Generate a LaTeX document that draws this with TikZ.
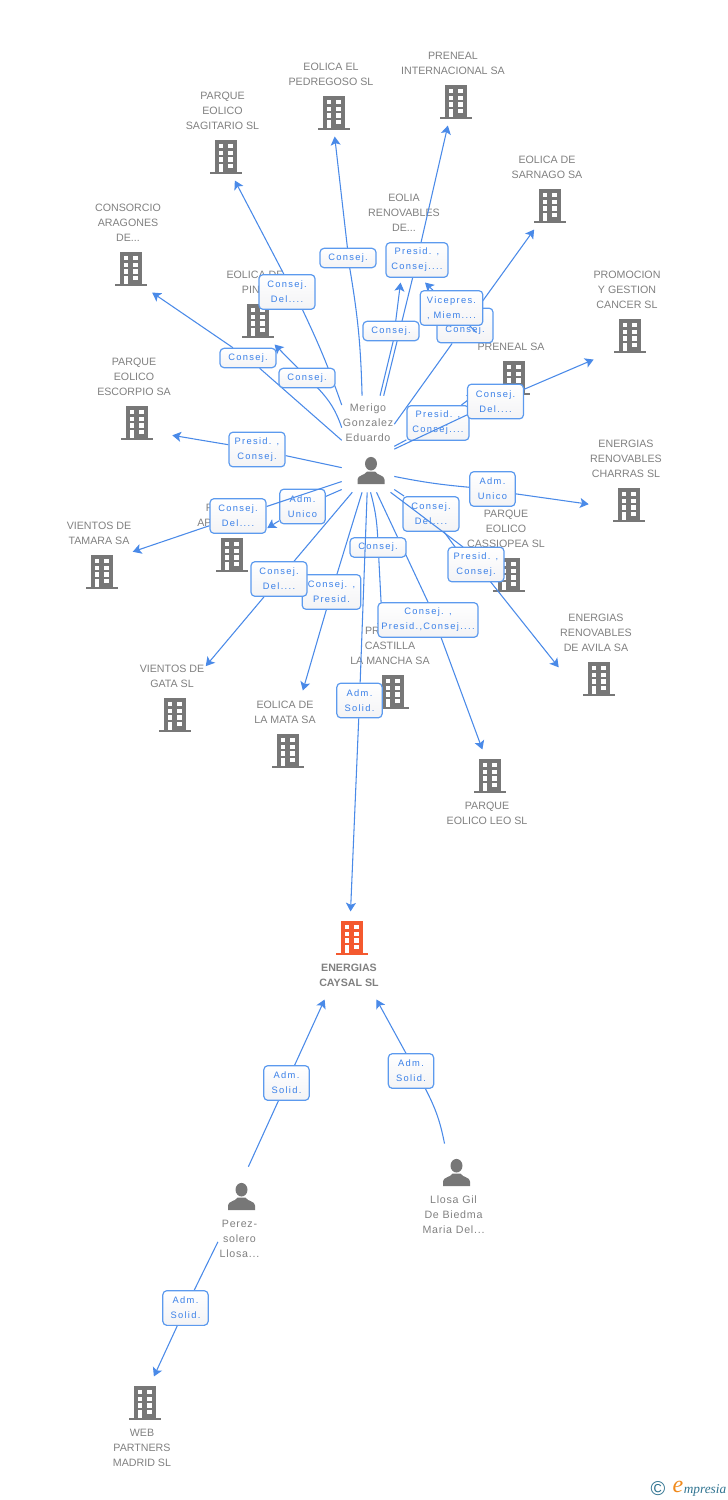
\documentclass[tikz,border=0pt]{standalone}
\usepackage{fontspec}
\setmainfont{Liberation Sans}
\newfontfamily\lblfont{Liberation Sans}[LetterSpace=14]
\newfontfamily\perfont{Liberation Sans}[LetterSpace=7]
\newfontfamily\logofont{Liberation Serif}
\usetikzlibrary{arrows.meta,positioning,fit,calc}

\definecolor{firmgray}{HTML}{777777}
\definecolor{firmorange}{HTML}{F4592F}
\definecolor{namegray}{HTML}{808080}
\definecolor{linkblue}{HTML}{4A8AE8}
\definecolor{lbltext}{HTML}{3A80E8}
\definecolor{lblborder}{HTML}{5C9AEE}
\definecolor{lblshade}{HTML}{F3F3F5}
\definecolor{logoteal}{HTML}{2F7390}
\definecolor{logoorange}{HTML}{F08A1D}

\pgfdeclarelayer{firms}
\pgfdeclarelayer{linkback}
\pgfdeclarelayer{lblback}
\pgfdeclarelayer{linkfront}
\pgfsetlayers{firms,linkback,lblback,linkfront,main}

\tikzset{
    firmicon/.style={inner sep=0pt, minimum width=24pt, minimum height=25.5pt},
    firmname/.style={inner xsep=0pt, inner ysep=2.8pt, text depth=0pt, align=center, text=namegray,
        font=\fontsize{8}{11.25}\selectfont},
    firmfit/.style={inner xsep=.75pt, inner ysep=4.5pt},
    firmfitlow/.style={inner xsep=.75pt, inner ysep=6.75pt},
    pername/.style={firmname, font=\fontsize{8}{11.25}\selectfont\perfont},
    perbox/.style={inner sep=0pt, minimum width=39pt},
    link/.style={draw=linkblue, line width=.8pt, -{Stealth[length=6.5pt,width=7.5pt,inset=1.5pt]}},
    lblbox/.style={draw=lblborder, line width=.9pt, rounded corners=3pt, top color=white, bottom color=lblshade,
        text=lbltext, align=center, inner sep=0pt, minimum width=42pt, minimum height=26pt,
        font=\fontsize{7}{11.25}\selectfont\lblfont},
    lblone/.style={lblbox, minimum height=14.5pt},
    pics/firm/.style={code={
        \fill[#1] (-11,-17) rectangle (11,15.5);
        \fill[#1] (-16,15) rectangle (16,17);
        \foreach \wy in {-13,-6.3,.3} {
            \fill[white] (-7,\wy) rectangle (-2.7,\wy+4.4);
            \fill[white] (2.3,\wy) rectangle (7,\wy+4.4);
        }
        \fill[white] (2.3,7) rectangle (7,11.3);
        \fill[white] (-7,7) rectangle (-2.7,15);
    }},
    pics/person/.style={code={
        \fill[firmgray] (0,-6.8) ellipse (6 and 6.8);
        \fill[firmgray] (-13.5,13.5) -- (-13.5,9) .. controls (-13.5,4.5) and (-6,5) .. (-4,1)
            -- (4,1) .. controls (6,5) and (13.5,4.5) .. (13.5,9) -- (13.5,13.5) -- cycle;
    }}
}

\newcommand{\firmUp}[4]{%
    \node[firmicon] (#1Icon) at (#2,#3) {};
    \pic at (#1Icon) {firm=firmgray};
    \node[firmname, above=4.875pt of #1Icon.north, xshift=-2.25pt] (#1Text) {#4};
    \node[firmfit, fit=(#1Icon)(#1Text)] (#1) {};
}
\newcommand{\firmDown}[5][firmgray]{%
    \node[firmicon] (#2Icon) at (#3,#4) {};
    \pic at (#2Icon) {firm=#1};
    \node[firmname, below=3.375pt of #2Icon.south, xshift=-2.25pt] (#2Text) {#5};
    \node[firmfitlow, fit=(#2Icon)(#2Text)] (#2) {};
}

\begin{document}
\begin{tikzpicture}[x=.75pt, y=-.75pt]
    \useasboundingbox (0,0) rectangle (728,1500);

    \begin{pgfonlayer}{firms}
    \firmUp{pedregoso}{334}{113}{EOLICA EL\\PEDREGOSO SL}
    \firmUp{sagitario}{225.5}{157}{PARQUE\\EOLICO\\SAGITARIO SL}
    \firmUp{consorcio}{131}{269}{CONSORCIO\\ARAGONES\\DE...}
    \firmUp{prenealint}{456}{102}{PRENEAL\\INTERNACIONAL SA}
    \firmUp{sarnago}{550}{206}{EOLICA DE\\SARNAGO SA}
    \firmUp{eolia}{407}{259}{EOLIA\\RENOVABLES\\DE...}
    \firmUp{promocion}{630}{336}{PROMOCION\\Y GESTION\\CANCER SL}
    \firmUp{preneal}{514}{378}{PRENEAL SA}
    \firmUp{pino}{258}{321}{EOLICA DE\\PINO}
    \firmUp{escorpio}{137}{423}{PARQUE\\EOLICO\\ESCORPIO SA}
    \firmUp{charras}{629}{505}{ENERGIAS\\RENOVABLES\\CHARRAS SL}
    \firmUp{cassiopea}{509}{575}{PARQUE\\EOLICO\\CASSIOPEA SL}
    \firmUp{avila}{599}{679}{ENERGIAS\\RENOVABLES\\DE AVILA SA}
    \firmUp{tamara}{102}{572}{VIENTOS DE\\TAMARA SA}
    \firmUp{gata}{175}{715}{VIENTOS DE\\GATA SL}
    \firmUp{mata}{288}{751}{EOLICA DE\\LA MATA SA}
    \firmUp{castilla}{393}{692}{CASTILLA\\LA MANCHA SA}
    \firmDown{leo}{490}{776}{PARQUE\\EOLICO LEO SL}
    \firmDown[firmorange]{caysal}{352}{938}{\textbf{ENERGIAS}\\\textbf{CAYSAL SL}}
    \firmDown{web}{145}{1403}{WEB\\PARTNERS\\MADRID SL}

    \node[firmname] (castillaCut) at (372.5,631) {PR};
    \node[firmicon] (apIcon) at (232,555) {};
    \pic at (apIcon) {firm=firmgray};
    \node[firmname, anchor=west] (apCutA) at (205.7,508) {P};
    \node[firmname, anchor=west] (apCutB) at (197,523) {AP};
    \coordinate (apEdge) at (266,523);
    \node[firmfit, fit=(apIcon)(apCutA)(apCutB)(apEdge)] (ap) {};

    \node[perbox, minimum height=72pt] (merigo) at (368,444) {};
    \pic at (371,470.5) {person};
    \node[pername] (merigoText) at (368,423) {Merigo\\Gonzalez\\Eduardo};
    \node[perbox, minimum width=32pt, minimum height=75pt] (perez) at (239.5,1217) {};
    \pic at (241.5,1196.5) {person};
    \node[pername] (perezText) at (239.5,1239) {Perez-\\solero\\Llosa...};
    \node[perbox, minimum width=48pt, minimum height=76pt] (llosa) at (453.5,1194.5) {};
    \pic at (456.5,1172.5) {person};
    \node[pername] (llosaText) at (453.5,1215) {Llosa Gil\\De Biedma\\Maria Del...};
    \end{pgfonlayer}

    \begin{pgfonlayer}{lblback}
    \node[lblone] (lblPedregoso) at (348,258) {Consej.};
    \node[lblbox] (lblSagitario) at (287,292) {Consej.\\Del....};
    \node[lblone] (lblConsorcio) at (248,358) {Consej.};
    \node[lblone] (lblPino) at (307,378) {Consej.};
    \node[lblone] (lblEolia) at (391,331) {Consej.};
    \node[lblbox, minimum width=46.5pt] (lblPrenealint) at (417,260) {Presid. ,\\Consej....};
    \node[lblbox] (lblSarnago) at (465,325.5) {\mbox{}\\Consej.};
    \node[lblbox, minimum width=46.5pt] (lblPreneal) at (438,423) {Presid. ,\\Consej....};
    \node[lblbox] (lblEscorpio) at (257,449.5) {Presid. ,\\Consej.};
    \node[lblbox, minimum width=34pt] (lblCharras) at (492.5,489) {Adm.~\\Unico};
    \node[lblbox, minimum width=34pt] (lblAp) at (302.5,506.5) {Adm.~\\Unico};
    \node[lblbox] (lblCassiopea) at (431,514) {Consej.\\Del....};
    \node[lblone] (lblCastilla) at (378,547.5) {Consej.};
    \node[lblbox, minimum width=44pt] (lblMata) at (331.5,592) {Consej. ,\\Presid.};
    \node[lblbox] (lblGata) at (279,579) {Consej.\\Del....};
    \node[lblbox, minimum width=75pt] (lblLeo) at (428,620) {Consej. ,\\Presid.,Consej....};
    \node[lblbox, minimum width=34pt] (lblPerez) at (286.5,1083) {Adm.~\\Solid.};
    \node[lblbox, minimum width=34pt] (lblLlosa) at (411,1071) {Adm.~\\Solid.};
    \node[lblbox, minimum width=34pt] (lblWeb) at (185.5,1308) {Adm.~\\Solid.};
    \end{pgfonlayer}

    \node[lblbox] (lblPromocion) at (495.5,401.5) {Consej.\\Del....};
    \node[lblbox] (lblTamara) at (238,516) {Consej.\\Del....};
    \node[lblbox] (lblAvila) at (476,564.5) {Presid. ,\\Consej.};
    \node[lblbox, minimum width=34pt] (lblCaysal) at (359.5,700.5) {Adm.~\\Solid.};
    \node[lblbox, minimum width=47pt] (lblVicepres) at (451.5,308) {Vicepres.\\, Miem....};

    \begin{pgfonlayer}{linkback}
    \draw[link] (merigo.97.7) to[bend right=4] (lblPedregoso) -- (pedregoso.-85.7);
    \draw[link] (merigo.124) to[bend right=3] (lblSagitario.-49) -- (sagitario.-76.2);
    \draw[link] (merigo.148.7) to[bend right=12] (lblPino) -- (pino.-65.7);
    \draw[link] (merigo.172.8) -- (lblConsorcio) -- (consorcio.-64);
    \draw[link] (merigo.76.6) -- (lblEolia.-78) -- (eolia.-94.7);
    \draw[link] (merigo.72.7) -- (lblPrenealint) -- (prenealint.-97);
    \draw[link] (merigo.37.2) -- (lblSarnago) -- (sarnago.-107.6);
    \draw[link] (merigo.-5.9) -- (lblPreneal) -- (preneal);
    \draw[link] (merigo.-51.5) to[bend right=3] (lblCharras) -- (charras.-146.3);
    \draw[link] (merigo.-138) -- (lblEscorpio) -- (escorpio.-45);
    \draw[link] (merigo.-120.7) -- (lblAp) -- (ap.13.4);
    \draw[link] (merigo.-108.8) -- (lblGata) -- (gata.42.3);
    \draw[link] (merigo.-97.5) -- (lblMata) -- (mata.67.5);
    \draw[link] (merigo.-87.6) to[bend left=6] (lblCastilla) -- (castilla.100);
    \draw[link] (merigo.-80.9) -- (lblLeo.north) -- (leo.96.6);
    \draw[link] (merigo.-60.9) -- (lblCassiopea) -- (cassiopea.-163.3);
    \draw[link] (perez.80.4) -- (lblPerez) -- (caysal.-119);
    \draw[link] (llosa.100.7) to[bend right=8] (lblLlosa.-51) -- (caysal.-58);
    \draw[link] (perez.-131.3) -- (lblWeb) -- (web.77.8);
    \end{pgfonlayer}

    \begin{pgfonlayer}{linkfront}
    \draw[link] (merigo.-11.5) -- (lblPromocion) -- (promocion.-124.7);
    \draw[link] (merigo.-125) -- (lblTamara) -- (tamara.3.4);
    \draw[link] (merigo.-65.4) -- (lblAvila.127) -- (avila.-159.6);
    \draw[link] (merigo.-91.5) -- (lblCaysal) -- (caysal.88.7);
    \draw[link] (preneal.135) -- (lblVicepres) -- (eolia.-67.8);
    \end{pgfonlayer}

    \node[inner sep=0pt, text=logoteal, font=\fontsize{15}{16}\selectfont] (logoMark) at (658,1489) {©};
    \node[inner sep=0pt, text=logoorange, font=\fontsize{18}{18}\selectfont\logofont\itshape] (logoE) at (678,1487) {e};
    \node[inner sep=0pt, anchor=west, text=logoteal, font=\fontsize{10}{12}\selectfont\logofont\itshape] (logoText) at (683.5,1490) {mpresia};
\end{tikzpicture}
\end{document}
